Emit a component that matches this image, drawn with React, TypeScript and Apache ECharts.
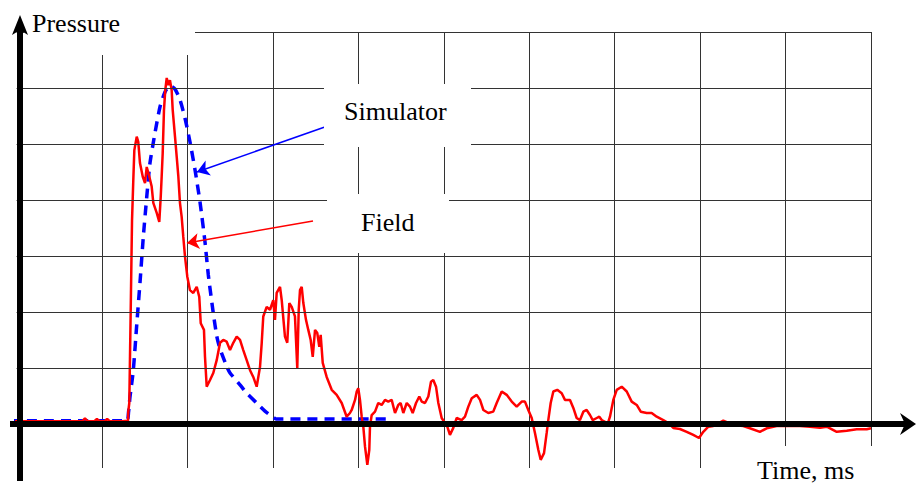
import React, { useEffect, useRef } from "react";
import * as echarts from "echarts";

// Time in ms (one grid cell = 10 ms), pressure in arbitrary units (one grid cell = 10)
const gridLevels = [10, 20, 30, 40, 50, 60, 70];

const fieldBaseline = [
  [-0.77, 0.5], [3.0, 0.5], [6.0, 0.5], [7.7, 0.5], [8.0, 1.0], [8.3, 0.5], [9.1, 0.5], [9.4, 0.9],
  [9.7, 0.5], [10.3, 0.5], [10.6, 0.9], [10.9, 0.5], [12.4, 0.5], [13.04, 0.6],
];

const fieldMainPulse = [
  [13.07, 2.2], [13.19, 3.75], [13.35, 19.8], [13.51, 36.4], [13.66, 43.6], [13.78, 48.9], [14.06, 51.3],
  [14.24, 50.4], [14.44, 46.6], [14.76, 44.2], [15.03, 43.0], [15.23, 45.9], [15.53, 44.2], [15.81, 42.4],
  [16.0, 39.5], [16.4, 37.7], [16.7, 36.1], [16.87, 40.6], [16.98, 44.2], [17.1, 48.4], [17.25, 56.1],
  [17.4, 59.6], [17.57, 61.8], [17.76, 60.5], [17.95, 61.4], [18.15, 59.6], [18.27, 56.1], [18.54, 51.3],
  [18.74, 47.7], [18.93, 44.2], [19.12, 39.5], [19.32, 37.0], [19.51, 33.4], [19.71, 29.9], [19.98, 26.3],
  [20.29, 23.9], [20.68, 23.4], [21.08, 24.5], [21.38, 22.7], [21.55, 18.0], [21.93, 16.8], [22.05, 12.0],
  [22.25, 6.66],
];

const fieldSecondPulse = [
  [22.64, 7.86], [23.02, 9.1], [23.42, 11.4], [23.81, 14.5], [24.19, 15.0], [24.59, 14.7], [24.98, 13.2],
  [25.36, 14.5], [25.76, 15.6], [26.15, 15.0], [26.53, 13.2], [26.93, 11.4], [27.32, 9.6], [27.7, 8.4],
  [28.1, 6.66], [28.49, 10.2], [28.69, 14.5], [28.87, 19.2], [29.27, 20.9], [29.66, 20.4], [30.04, 22.1],
  [30.24, 18.6], [30.44, 23.4], [30.83, 24.5], [31.03, 22.1], [31.41, 15.6], [31.68, 14.5], [31.92, 21.6],
  [32.2, 20.9], [32.58, 19.2], [32.85, 10.0], [33.02, 20.4], [33.17, 23.9], [33.37, 24.5], [33.56, 21.6],
  [33.87, 18.6], [34.14, 16.8], [34.42, 15.0], [34.66, 12.0], [34.93, 16.8], [35.19, 16.25], [35.43, 13.8],
  [35.59, 15.9], [35.83, 10.9], [36.29, 8.4], [36.88, 6.1], [37.46, 5.2], [38.05, 3.75], [38.63, 1.3],
  [39.02, 1.96],
];

const fieldTailA = [
  [39.22, 2.5], [39.61, 4.3], [39.81, 5.8], [39.99, 6.4], [40.19, 4.3], [40.39, 1.3], [40.58, -0.48],
  [40.78, -4.05], [41.05, -7.3], [41.28, -4.6], [41.36, -0.48], [41.56, 1.6], [41.95, 2.2], [42.33, 3.75],
  [42.73, 3.4], [43.12, 4.3], [43.5, 4.0], [43.9, 4.3], [44.29, 1.96], [44.67, 3.4], [44.95, 3.75],
  [45.26, 1.96], [45.66, 3.75], [46.04, 3.1], [46.36, 1.96], [46.75, 3.75], [47.13, 4.9], [47.41, 4.0],
  [47.8, 3.75], [48.19, 4.9], [48.5, 7.55], [48.77, 7.86], [49.09, 6.66], [49.36, 3.75], [49.75, 1.07],
  [50.14, 0.18], [50.41, -0.48], [50.72, -1.96], [51.11, -0.7], [51.51, 1.07], [52.09, 0.7], [52.48, 1.3],
  [52.87, 3.1], [53.27, 4.6], [53.85, 5.2], [54.24, 4.3], [54.63, 2.5], [55.21, 1.96], [55.79, 2.2],
  [56.19, 3.75], [56.78, 5.8], [57.36, 5.2], [57.95, 4.0], [58.53, 3.1], [59.12, 4.0], [59.5, 4.0],
  [59.89, 2.5],
];

const fieldTailB = [
  [60.29, 1.07], [60.67, -1.6], [61.06, -4.6], [61.34, -6.4], [61.73, -5.2], [62.04, -1.6], [62.23, 0.7],
  [62.51, 3.75], [62.82, 5.8], [63.28, 6.1], [63.8, 5.5], [64.18, 4.3], [64.77, 4.3], [65.16, 2.86],
  [65.55, 1.07], [65.94, 0.7], [66.33, 2.2], [66.72, 2.5], [67.11, 1.6], [67.43, 0.7], [67.9, 1.07],
  [68.2, 1.3], [68.48, 0.7], [68.87, 0.4], [69.14, -0.18], [69.45, 1.3], [69.84, 4.3], [70.24, 6.1],
  [70.82, 6.66], [71.41, 5.8], [71.99, 4.0], [72.58, 3.4], [73.05, 2.2], [73.75, 1.96], [74.33, 1.96],
  [74.92, 1.3], [75.69, 0.7], [76.28, 0.18], [76.86, -0.7], [77.64, -0.9], [78.43, -1.4], [79.2, -1.96],
  [79.87, -2.5], [80.37, -1.4], [80.96, -0.48], [81.54, -0.36], [82.71, 0.6], [83.88, -0.18], [85.05, -0.36],
  [85.83, -0.77], [87.0, -1.4], [87.79, -0.77], [88.96, -0.36], [90.13, -0.36], [91.69, -0.36], [92.86, -0.48],
  [94.04, -0.66], [94.82, -0.48], [95.99, -1.4], [97.16, -1.2], [98.33, -0.95], [99.5, -0.95], [100.0, -0.77],
];

const simulatorPulse = [
  [-0.77, 0.6], [12.89, 0.6], [13.1, 2.1], [13.27, 4.8], [13.66, 9.6], [14.06, 17.7], [14.44, 25.2],
  [14.83, 33.4], [15.23, 40.5], [15.61, 46.6], [16.2, 52.0], [16.78, 56.6], [17.37, 59.3], [17.95, 60.4],
  [18.54, 59.8], [19.12, 57.9], [19.71, 54.6], [20.29, 50.4], [20.88, 45.4], [21.47, 39.6], [22.05, 32.5],
  [22.44, 26.6], [23.02, 19.8], [23.45, 15.5], [23.81, 13.4], [24.62, 10.2], [24.98, 9.1], [26.15, 7.0],
  [26.93, 5.5], [28.1, 3.75], [29.07, 2.3], [30.0, 1.25], [30.36, 0.9], [43.47, 0.9],
];

// Annotation arrows (data coordinates): [start, end]
const simulatorArrow = [[35.99, 53.0], [21.11, 45.0]];
const fieldArrow = [[34.69, 36.25], [19.94, 32.3]];

const FONT = '"Liberation Serif", "Times New Roman", serif';

export default function App() {
  const ref = useRef<HTMLDivElement>(null);

  useEffect(() => {
    const chart = echarts.init(ref.current!, null, { renderer: "svg" });
    const field = [...fieldBaseline, ...fieldMainPulse, ...fieldSecondPulse, ...fieldTailA, ...fieldTailB];

    chart.setOption({
      animation: false,
      backgroundColor: "#ffffff",
      grid: { left: 16.6, right: 45, top: 32, bottom: 17 },
      xAxis: {
        type: "value",
        min: 0,
        max: 100,
        interval: 10,
        axisLine: { show: false },
        axisTick: { show: false },
        axisLabel: { show: false },
        splitLine: { show: true, showMinLine: false, lineStyle: { color: "#333", width: 1 } },
      },
      yAxis: {
        type: "value",
        min: -7.86,
        max: 70,
        axisLine: { show: false },
        axisTick: { show: false },
        axisLabel: { show: false },
        splitLine: { show: false },
      },
      series: [
        {
          type: "line",
          name: "grid",
          data: [],
          silent: true,
          markLine: {
            silent: true,
            symbol: "none",
            label: { show: false },
            lineStyle: { color: "#333", width: 1, type: "solid" },
            data: gridLevels.map((v) => ({ yAxis: v })),
          },
        },
        {
          type: "line",
          name: "Simulator",
          data: simulatorPulse,
          showSymbol: false,
          clip: false,
          smooth: 0.2,
          lineStyle: { color: "#0000ff", width: 3.5, type: [10, 7] },
          markLine: {
            silent: true,
            symbol: ["none", "arrow"],
            symbolSize: 12,
            label: { show: false },
            lineStyle: { color: "#0000ff", width: 1.5, type: "solid" },
            data: [[{ coord: simulatorArrow[0] }, { coord: simulatorArrow[1] }]],
          },
        },
        {
          type: "line",
          name: "Field",
          data: field,
          showSymbol: false,
          clip: false,
          lineStyle: { color: "#ff0000", width: 2.5 },
          markLine: {
            silent: true,
            symbol: ["none", "arrow"],
            symbolSize: 12,
            label: { show: false },
            lineStyle: { color: "#ff0000", width: 1.5, type: "solid" },
            data: [[{ coord: fieldArrow[0] }, { coord: fieldArrow[1] }]],
          },
        },
      ],
      graphic: [
        { type: "rect", z: 50, shape: { x: 24, y: 0, width: 171, height: 55 }, style: { fill: "#fff" } },
        { type: "rect", z: 50, shape: { x: 324, y: 84, width: 147, height: 63 }, style: { fill: "#fff" } },
        { type: "rect", z: 50, shape: { x: 327, y: 194, width: 122, height: 59 }, style: { fill: "#fff" } },
        { type: "rect", z: 50, shape: { x: 740, y: 446, width: 176, height: 39 }, style: { fill: "#fff" } },
        { type: "line", z: 60, shape: { x1: 20, y1: 28, x2: 20, y2: 481 }, style: { stroke: "#000", lineWidth: 6 } },
        { type: "polygon", z: 60, shape: { points: [[12, 35], [20, 15], [28, 35], [20, 30]] }, style: { fill: "#000" } },
        { type: "line", z: 60, shape: { x1: 10, y1: 424, x2: 908, y2: 424 }, style: { stroke: "#000", lineWidth: 6 } },
        { type: "polygon", z: 60, shape: { points: [[900, 413], [916, 424], [900, 435], [905, 424]] }, style: { fill: "#000" } },
        { type: "text", z: 70, style: { text: "Pressure", x: 32, y: 23, fontFamily: FONT, fontSize: 26, fill: "#000", textAlign: "left", textVerticalAlign: "middle" } },
        { type: "text", z: 70, style: { text: "Simulator", x: 344, y: 111, fontFamily: FONT, fontSize: 26, fill: "#000", textAlign: "left", textVerticalAlign: "middle" } },
        { type: "text", z: 70, style: { text: "Field", x: 361, y: 222, fontFamily: FONT, fontSize: 26, fill: "#000", textAlign: "left", textVerticalAlign: "middle" } },
        { type: "text", z: 70, style: { text: "Time, ms", x: 757, y: 470, fontFamily: FONT, fontSize: 26, fill: "#000", textAlign: "left", textVerticalAlign: "middle" } },
      ],
    });

    return () => chart.dispose();
  }, []);

  return (
    <div
      ref={ref}
      style={{ position: "fixed", left: 0, top: 0, width: 916, height: 485, background: "#fff" }}
    />
  );
}
